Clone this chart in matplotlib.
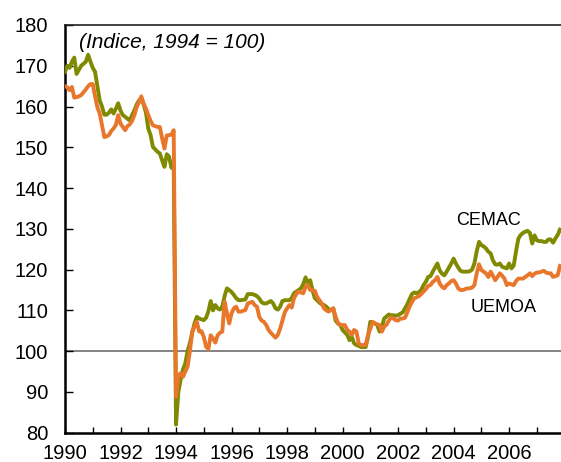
import matplotlib
matplotlib.use("Agg")
import matplotlib.pyplot as plt
import numpy as np

# Monthly index values, January 1990 - November 2007 (1994 = 100)
years = list(range(1990, 2008))

cemac = {
    1990: [168.5, 170.0, 169.5, 171.0, 172.0, 168.0, 169.0, 170.0, 170.5, 171.0, 172.7, 171.0],
    1991: [169.5, 168.5, 165.0, 161.5, 160.0, 158.0, 158.0, 158.5, 159.3, 158.3, 159.5, 160.8],
    1992: [159.0, 157.9, 157.5, 157.0, 156.6, 157.9, 159.1, 160.5, 161.5, 162.0, 160.5, 158.5],
    1993: [154.6, 153.0, 150.1, 149.5, 148.9, 148.5, 146.8, 145.2, 148.3, 147.7, 145.0, 144.8],
    1994: [82.0, 90.0, 93.0, 95.5, 97.0, 100.0, 102.0, 104.5, 106.8, 108.4, 108.0, 107.8],
    1995: [107.6, 108.2, 109.8, 112.3, 110.0, 111.3, 110.5, 110.2, 110.9, 113.5, 115.4, 115.0],
    1996: [114.5, 113.8, 113.0, 112.5, 112.5, 112.6, 112.7, 114.0, 114.0, 114.0, 113.8, 113.5],
    1997: [112.9, 112.0, 111.7, 111.7, 112.0, 112.3, 111.7, 110.5, 110.2, 110.9, 112.3, 112.5],
    1998: [112.5, 112.5, 113.0, 114.2, 114.6, 115.0, 115.4, 116.4, 118.1, 116.6, 117.4, 115.0],
    1999: [113.0, 112.5, 111.9, 111.5, 111.3, 110.9, 110.3, 110.1, 110.5, 107.5, 106.8, 106.4],
    2000: [105.2, 104.6, 104.0, 102.7, 103.5, 101.9, 101.5, 101.3, 101.0, 101.0, 101.0, 103.5],
    2001: [107.2, 107.0, 106.8, 106.4, 104.8, 106.0, 108.0, 108.5, 109.0, 108.8, 108.8, 108.7],
    2002: [108.8, 109.2, 109.5, 110.5, 111.5, 112.8, 114.0, 114.4, 114.2, 114.5, 115.0, 116.2],
    2003: [117.0, 118.2, 118.4, 119.5, 120.5, 121.5, 119.8, 119.0, 118.6, 119.5, 120.5, 121.5],
    2004: [122.7, 121.5, 120.5, 119.7, 119.5, 119.5, 119.5, 119.6, 120.0, 121.5, 124.5, 126.8],
    2005: [126.0, 125.7, 125.2, 124.4, 124.0, 122.3, 121.3, 121.2, 121.5, 120.7, 120.5, 120.3],
    2006: [121.5, 120.3, 121.0, 124.5, 127.6, 128.5, 129.0, 129.3, 129.5, 129.0, 126.4, 128.4],
    2007: [127.2, 127.0, 127.0, 126.8, 126.8, 127.4, 127.4, 126.6, 127.6, 128.5, 129.8],
}

uemoa = {
    1990: [165.0, 164.7, 164.0, 164.8, 162.2, 162.3, 162.5, 162.8, 163.5, 164.2, 165.0, 165.5],
    1991: [165.5, 162.5, 159.8, 158.3, 155.4, 152.5, 152.7, 153.0, 154.0, 154.6, 155.5, 157.9],
    1992: [155.8, 155.0, 154.2, 155.2, 155.6, 156.5, 157.9, 159.9, 161.0, 162.5, 160.7, 159.5],
    1993: [157.9, 156.5, 155.4, 155.2, 155.0, 155.0, 152.2, 149.7, 152.9, 153.0, 153.1, 154.2],
    1994: [88.8, 94.0, 94.6, 93.7, 95.0, 96.2, 100.0, 104.8, 106.0, 107.2, 104.8, 104.9],
    1995: [103.5, 101.1, 100.5, 103.9, 103.1, 102.1, 103.9, 104.5, 104.8, 112.1, 109.3, 106.8],
    1996: [109.3, 110.5, 110.9, 109.7, 109.7, 109.9, 110.1, 111.7, 111.9, 112.1, 111.3, 110.9],
    1997: [108.4, 107.5, 107.2, 106.4, 105.2, 104.5, 103.9, 103.3, 104.0, 105.5, 107.5, 109.5],
    1998: [110.5, 111.3, 110.7, 113.0, 114.0, 114.6, 114.4, 114.2, 115.8, 116.2, 115.0, 114.9],
    1999: [114.8, 113.3, 112.5, 111.7, 110.5, 110.0, 109.7, 110.1, 110.5, 108.4, 107.0, 106.4],
    2000: [106.4, 106.4, 105.2, 104.8, 104.0, 105.2, 104.8, 101.9, 101.5, 101.5, 101.5, 104.0],
    2001: [105.5, 107.2, 106.8, 106.6, 106.4, 104.8, 106.0, 106.5, 107.5, 108.3, 108.0, 107.6],
    2002: [107.5, 108.0, 108.0, 108.2, 109.5, 111.0, 112.0, 113.0, 113.2, 113.5, 114.0, 114.6],
    2003: [115.2, 116.0, 116.2, 117.0, 117.4, 118.2, 116.6, 115.8, 115.4, 116.2, 116.6, 117.2],
    2004: [117.4, 116.6, 115.4, 115.0, 115.0, 115.2, 115.4, 115.4, 115.6, 116.2, 119.1, 121.3],
    2005: [119.9, 119.5, 119.1, 118.2, 119.5, 118.5, 117.4, 118.2, 119.1, 118.5, 117.8, 116.2],
    2006: [116.6, 116.4, 116.2, 117.2, 117.8, 117.8, 117.8, 118.2, 118.6, 119.1, 118.4, 119.0],
    2007: [119.3, 119.3, 119.5, 119.7, 119.3, 119.1, 119.1, 118.2, 118.4, 118.6, 120.9],
}

year_labels = ["1990", "1992", "1994", "1996", "1998", "2000", "2002", "2004", "2006"]
y_ticks = [80, 90, 100, 110, 120, 130, 140, 150, 160, 170, 180]
title_text = "(Indice, 1994 = 100)"


def to_series(d):
    xs, vs = [], []
    for y in years:
        for m, v in enumerate(d[y]):
            xs.append(y + m / 12.0)
            vs.append(v)
    return np.array(xs), np.array(vs)


xc, vc = to_series(cemac)
xu, vu = to_series(uemoa)

plt.rcParams['font.family'] = ['Liberation Sans', 'DejaVu Sans']

fig = plt.figure(figsize=(5.61, 4.62), dpi=100)
ax = fig.add_axes([65 / 561, 1 - 432.7 / 462, 1 - 65 / 561, (432.7 - 25) / 462])

green = '#7f8a00'
orange = '#e8772c'

ax.axhline(100, color='#6e6e6e', lw=1.2, zorder=1)
ax.plot(xc, vc, color=green, lw=2.8, zorder=3, solid_joinstyle='round')
ax.plot(xu, vu, color=orange, lw=2.8, zorder=4, solid_joinstyle='round')

ax.set_xlim(1990, 2007.87)
ax.set_ylim(80, 180)
ax.set_yticks(y_ticks)
ax.set_xticks([int(s) for s in year_labels])
ax.set_xticklabels(year_labels)
ax.set_xticks(range(1991, 2008, 2), minor=True)

ax.tick_params(axis='y', direction='in', length=6, width=1, pad=12, labelsize=14.5)
ax.tick_params(axis='x', which='both', direction='in', length=4, width=1, pad=8, labelsize=14.5)

ax.spines['right'].set_visible(False)
ax.spines['top'].set_linewidth(1.2)
ax.spines['top'].set_color('#222222')
ax.spines['left'].set_linewidth(1.8)
ax.spines['bottom'].set_linewidth(1.8)

ax.text(0.028, 0.956, title_text, transform=ax.transAxes, fontsize=15,
        style='italic', ha='left', va='center')
ax.text(2005.24, 132.1, "CEMAC", fontsize=13, ha='center', va='center')
ax.text(2005.82, 110.8, "UEMOA", fontsize=13, ha='center', va='center')

fig.savefig("out.png", dpi=100)
